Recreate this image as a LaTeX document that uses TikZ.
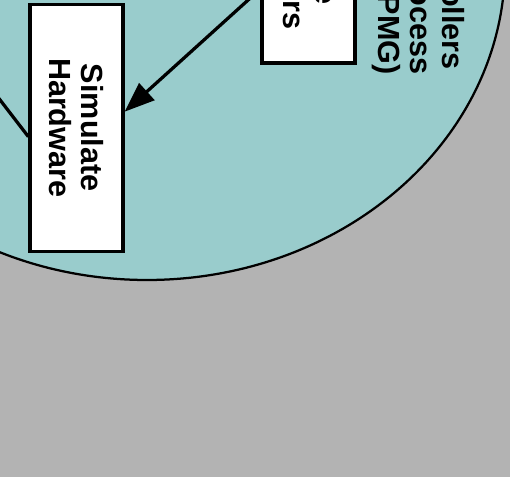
\documentclass[tikz,border=0pt]{standalone}
\usepackage{fontspec}
\setmainfont{Liberation Sans}
\usetikzlibrary{arrows.meta}
\definecolor{bggray}{RGB}{179,179,179}
\definecolor{regionteal}{RGB}{153,204,204}

\begin{document}
\begin{tikzpicture}[
    region/.style={draw, line width=0.045cm, fill=regionteal},
    block/.style={rectangle, draw, line width=0.066cm, fill=white, minimum width=4.94cm, minimum height=1.86cm, rotate=-90, align=center, inner sep=0pt},
    fragment/.style={rotate=-90, inner sep=0pt, anchor=base east},
    arrow/.style={-{Triangle[length=0.6cm, width=0.45cm]}, line width=0.065cm},
    link/.style={line width=0.065cm},
    every node/.style={font=\fontsize{17.4}{18.2}\selectfont\bfseries}
    ]

    % Marco y fondo
    \clip (0,0) rectangle (10.2,9.54);
    \fill[bggray] (0,0) rectangle (10.2,9.54);

    % Region
    \draw[region] (2.94,10.24) ellipse [x radius=7.16cm, y radius=6.3cm];

    % Bloques
    \node[block] (Hardware) at (1.53,6.986) {Simulate\\Hardware};
    \node[block] (Sensores) at (6.17,10.748) {};
    \node[fragment] (SensoresA) at (6.3,9.44) {e};
    \node[fragment] (SensoresB) at (5.66,8.94) {rs};

    % Texto de la region
    \node[fragment] (RegionA) at (8.84,8.14) {ollers};
    \node[fragment] (RegionB) at (8.2,8.04) {ocess};
    \node[fragment] (RegionC) at (7.56,8.04) {PMG)};

    % Conexiones
    \coordinate (Izquierda) at (-0.6,8.322);
    \draw[arrow] ([yshift=-0.988cm]Sensores.south) -- ([yshift=0.32cm]Hardware.north);
    \draw[link] (Izquierda) -- ([yshift=-0.18cm]Hardware.south);

\end{tikzpicture}
\end{document}
